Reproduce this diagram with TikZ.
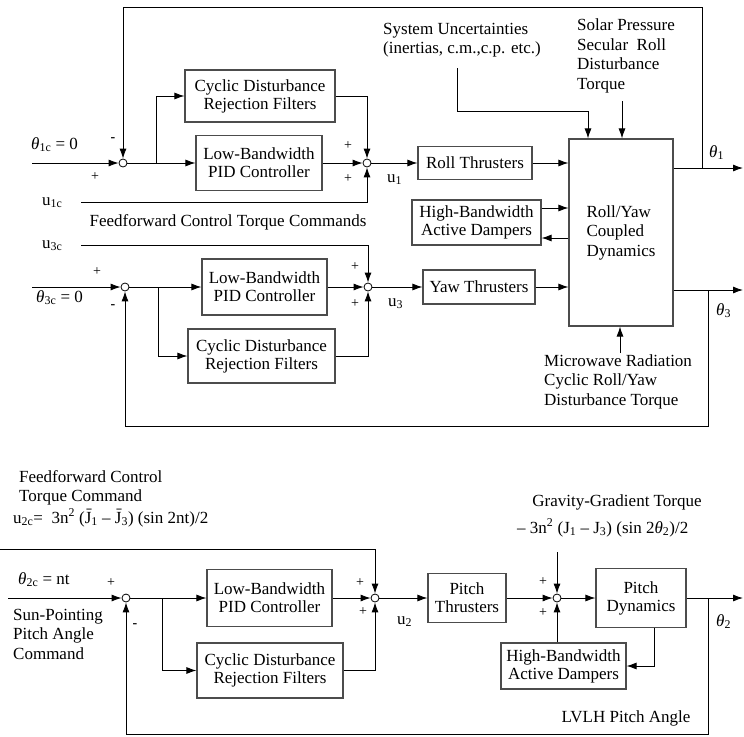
\documentclass[tikz,border=0pt]{standalone}
\usepackage{fontspec}
\setmainfont{Liberation Serif}
\usetikzlibrary{arrows.meta,calc}
\begin{document}
\begin{tikzpicture}[x=1pt,y=-1pt,
  every node/.style={font=\fontsize{17}{19.5}\selectfont, inner sep=0pt},
  blk/.style={draw=black!70, line width=1.1pt, align=center, fill=white, font=\fontsize{17}{18}\selectfont},
  sum/.style={circle, draw, line width=0.8pt, minimum size=8pt, fill=white},
  arr/.style={line width=0.9pt, -{Latex[length=10pt,width=7pt]}},
  ln/.style={line width=0.9pt},
  sg/.style={font=\fontsize{14}{14}\selectfont},
]
\fill[white] (0,0) rectangle (744,736);
\useasboundingbox (0,0) rectangle (744,736);

% ---------------- top: roll / yaw ----------------
\node[sum] (s1) at (123,163) {};
\node[blk, minimum width=150pt, minimum height=52pt] (cdr1) at (260,96) {Cyclic Disturbance\\Rejection Filters};
\node[blk, minimum width=126pt, minimum height=55pt] (pid1) at (259,163) {Low-Bandwidth\\PID Controller};
\node[sum] (s2) at (367,163) {};
\node[blk, minimum width=114pt, minimum height=33pt] (roll) at (475,163) {Roll Thrusters};
\node[blk, minimum width=104pt, minimum height=187pt, align=left, font=\fontsize{17}{19.5}\selectfont] (dyn) at (621,232.5) {Roll/Yaw\\Coupled\\Dynamics};
\node[blk, minimum width=129pt, minimum height=45pt] (hb1) at (476.5,222.5) {High-Bandwidth\\Active Dampers};

\node[sum] (s3) at (125,287) {};
\node[blk, minimum width=125pt, minimum height=56pt] (pid3) at (264.5,287) {Low-Bandwidth\\PID Controller};
\node[blk, minimum width=147pt, minimum height=54pt] (cdr3) at (261.5,356) {Cyclic Disturbance\\Rejection Filters};
\node[sum] (s4) at (368,287) {};
\node[blk, minimum width=112pt, minimum height=34pt] (yaw) at (479,287) {Yaw Thrusters};

\coordinate (in1) at (32,163);
\coordinate (in3) at (32,287);
\coordinate (u1c) at (81,202);
\coordinate (u3c) at (81,245);
\coordinate (br1) at (156,163);
\coordinate (br3) at (158,287);
\coordinate (t1) at (702,168);
\coordinate (o1) at (743,168);
\coordinate (t3) at (708,290);
\coordinate (o3) at (743,290);
\coordinate (topy) at (0,7);
\coordinate (boty) at (0,426);
\coordinate (su1) at (457,68);
\coordinate (sux) at (588,111);
\coordinate (sp) at (622,101);
\coordinate (mw) at (620,353);
\coordinate (hy1) at (0,208);
\coordinate (hy2) at (0,238);

\draw[arr] (in1) -- (s1);
\draw[arr] (s1) -- (pid1);
\draw[arr] (br1) |- (cdr1.west);
\draw[arr] (cdr1.east) -| (s2);
\draw[arr] (pid1) -- (s2);
\draw[arr] (u1c) -| (s2);
\draw[arr] (s2) -- (roll);
\draw[arr] (roll) -- (roll -| dyn.west);
\draw[arr] (hb1.east |- hy1) -- (dyn.west |- hy1);
\draw[arr] (dyn.west |- hy2) -- (hb1.east |- hy2);
\draw[arr] (dyn.east |- t1) -- (o1);
\draw[arr] (t1) -- (t1 |- topy) -| (s1);
\draw[arr] (su1) |- (sux) -- (sux |- dyn.north);
\draw[arr] (sp) -- (sp |- dyn.north);
\draw[arr] (mw) -- (mw |- dyn.south);

\draw[arr] (in3) -- (s3);
\draw[arr] (s3) -- (pid3);
\draw[arr] (br3) |- (cdr3.west);
\draw[arr] (cdr3.east) -| (s4);
\draw[arr] (pid3) -- (s4);
\draw[arr] (u3c) -| (s4);
\draw[arr] (s4) -- (yaw);
\draw[arr] (yaw) -- (yaw -| dyn.west);
\draw[arr] (dyn.east |- t3) -- (o3);
\draw[arr] (t3) -- (t3 |- boty) -| (s3);

% labels top
\node[anchor=base west] (l1c) at (31,149) {\textit{θ}\textsubscript{1c} = 0};
\node[sg] (p1a) at (95,177) {+};
\node[sg] (m1a) at (113,140) {\textbf{-}};
\node[anchor=base west] (lu1c) at (42,205) {u\textsubscript{1c}};
\node (ffc) at (228,222) {Feedforward Control Torque Commands};
\node[sg] (p2a) at (348,146) {+};
\node[sg] (p2b) at (348,179) {+};
\node[anchor=base west] (lu1) at (387,182) {u\textsubscript{1}};
\node[anchor=base west] (lth1) at (709,157) {\textit{θ}\textsubscript{1}};
\node[align=left, anchor=north west] (sysu) at (383,23) {System Uncertainties\\(inertias, c.m.,c.p. etc.)};
\node[align=left, anchor=north west] (solar) at (577,19) {Solar Pressure\\Secular\ \ Roll\\Disturbance\\Torque};

\node[anchor=base west] (lu3c) at (42,248) {u\textsubscript{3c}};
\node[sg] (p3a) at (97,272) {+};
\node[anchor=base west] (l3c) at (36,302) {\textit{θ}\textsubscript{3c} = 0};
\node[sg] (m3a) at (113,307) {\textbf{-}};
\node[sg] (p4a) at (355,267) {+};
\node[sg] (p4b) at (355,304) {+};
\node[anchor=base west] (lu3) at (388,306) {u\textsubscript{3}};
\node[anchor=base west] (lth3) at (716,315) {\textit{θ}\textsubscript{3}};
\node[align=left, anchor=north west] (micro) at (544,354) {Microwave Radiation\\Cyclic Roll/Yaw\\Disturbance Torque};

% ---------------- bottom: pitch ----------------
\node[sum] (s5) at (126,598) {};
\node[blk, minimum width=125pt, minimum height=57pt] (pid5) at (269.5,598) {Low-Bandwidth\\PID Controller};
\node[blk, minimum width=146pt, minimum height=55pt] (cdr5) at (270,670.5) {Cyclic Disturbance\\Rejection Filters};
\node[sum] (s6) at (375,598) {};
\node[blk, minimum width=78pt, minimum height=49pt] (pth) at (467,598) {Pitch\\Thrusters};
\node[sum] (s7) at (557,598) {};
\node[blk, minimum width=90pt, minimum height=59pt] (pdyn) at (641,598) {Pitch\\Dynamics};
\node[blk, minimum width=125pt, minimum height=46pt] (hb2) at (563.5,666) {High-Bandwidth\\Active Dampers};

\coordinate (in5) at (8,598);
\coordinate (ff5) at (0,549);
\coordinate (br5) at (162,598);
\coordinate (gg) at (557,552);
\coordinate (t5) at (708,598);
\coordinate (o5) at (743,598);
\coordinate (boty5) at (0,734);
\coordinate (pdx) at (654,666);

\draw[arr] (in5) -- (s5);
\draw[arr] (s5) -- (pid5);
\draw[arr] (br5) |- (cdr5.west);
\draw[arr] (cdr5.east) -| (s6);
\draw[arr] (pid5) -- (s6);
\draw[arr] (ff5) -| (s6);
\draw[arr] (s6) -- (pth);
\draw[arr] (pth) -- (s7);
\draw[arr] (gg) -- (s7);
\draw[arr] (s7) -- (pdyn);
\draw[arr] (pdyn.east) -- (o5);
\draw[arr] (t5) -- (t5 |- boty5) -| (s5);
\draw[arr] (pdx |- pdyn.south) -- (pdx) -- (hb2.east |- pdx);
\draw[arr] (hb2.north -| s7) -- (s7);

\node[align=left, anchor=north west] (ffb) at (19,470) {Feedforward Control\\Torque Command};
\node[anchor=base west] (u2c) at (13,523) {u\textsubscript{2c}=\ \ 3n\textsuperscript{2} (\={J}\textsubscript{1} – \={J}\textsubscript{3}) (sin 2nt)/2};
\node[anchor=base west] (l2c) at (18,584) {\textit{θ}\textsubscript{2c} = nt};
\node[sg] (p5a) at (111,583) {+};
\node[sg] (m5a) at (135,626) {\textbf{-}};
\node[align=left, anchor=north west] (spc) at (13,609) {Sun-Pointing\\Pitch Angle\\Command};
\node[sg] (p6a) at (360,583) {+};
\node[sg] (p6b) at (363,612) {+};
\node[anchor=base west] (lu2) at (397,624) {u\textsubscript{2}};
\node[sg] (p7a) at (543,582) {+};
\node[sg] (p7b) at (543,613) {+};
\node (ggt) at (617,502) {Gravity-Gradient Torque};
\node[anchor=base west] (ggf) at (517,533) {– 3n\textsuperscript{2} (J\textsubscript{1} – J\textsubscript{3}) (sin 2\textit{θ}\textsubscript{2})/2};
\node[anchor=base west] (lth2) at (716,626) {\textit{θ}\textsubscript{2}};
\node (lvlh) at (626,718) {LVLH Pitch Angle};
\end{tikzpicture}
\end{document}
